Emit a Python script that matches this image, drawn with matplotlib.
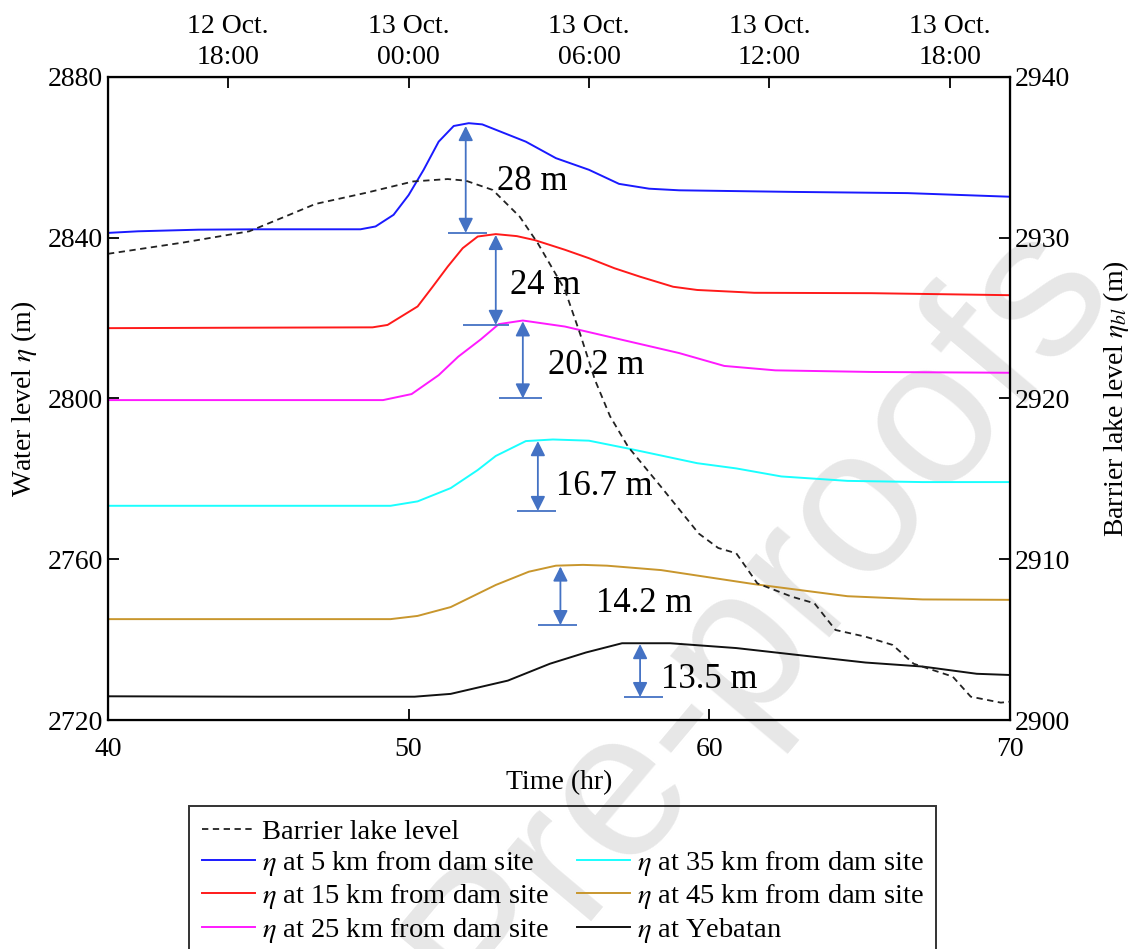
import numpy as np
import matplotlib
matplotlib.use('Agg')
from matplotlib import pyplot as plt

plt.rcParams['font.family'] = 'serif'
plt.rcParams['font.serif'] = ['Liberation Serif', 'DejaVu Serif']
plt.rcParams['mathtext.fontset'] = 'stix'
plt.rcParams['font.size'] = 20

# ---- data (time in hr, water level in m) ----
t_5km = [40, 41, 43, 45, 48.4, 48.9, 49.5, 50.0, 50.5, 51.0, 51.5, 52.0, 52.45, 53.9,
         54.9, 56.0, 57.0, 58.0, 59.0, 62.8, 66.6, 70]
h_5km = [2841.2, 2841.6, 2842.0, 2842.1, 2842.1, 2842.8, 2845.7, 2850.6, 2856.9, 2863.9,
         2867.8, 2868.5, 2868.2, 2863.9, 2859.8, 2856.9, 2853.4, 2852.2, 2851.8, 2851.4,
         2851.1, 2850.2]

t_15km = [40, 44, 48.8, 49.3, 50.3, 50.8, 51.3, 51.8, 52.3, 52.9, 53.6, 54.2, 55.2, 56.0,
          56.85, 57.7, 58.8, 59.6, 61.5, 65.4, 70]
h_15km = [2817.5, 2817.6, 2817.7, 2818.3, 2822.9, 2827.8, 2832.8, 2837.4, 2840.3, 2840.9,
          2840.4, 2839.4, 2837.0, 2834.9, 2832.4, 2830.3, 2827.8, 2827.0, 2826.3, 2826.2,
          2825.7]

t_25km = [40, 45, 49.15, 50.1, 51.0, 51.65, 52.4, 53.0, 53.8, 55.2, 57.1, 59.0, 60.5,
          62.2, 65.4, 70]
h_25km = [2799.6, 2799.6, 2799.6, 2801.1, 2805.8, 2810.4, 2814.7, 2818.5, 2819.4, 2817.9,
          2814.6, 2811.3, 2808.1, 2807.0, 2806.6, 2806.4]

t_35km = [40, 45, 49.4, 50.3, 51.4, 52.3, 52.9, 53.9, 54.8, 56.0, 57.4, 59.6, 60.9, 62.4,
          64.6, 67.1, 70]
h_35km = [2773.3, 2773.3, 2773.3, 2774.4, 2777.7, 2782.2, 2785.7, 2789.4, 2789.8, 2789.5,
          2787.4, 2783.9, 2782.6, 2780.6, 2779.5, 2779.2, 2779.2]

t_45km = [40, 45, 49.4, 50.3, 51.4, 52.9, 54.0, 54.9, 55.8, 56.6, 58.4, 61.5, 64.6, 67.1, 70]
h_45km = [2745.1, 2745.1, 2745.1, 2745.9, 2748.1, 2753.6, 2756.9, 2758.4, 2758.6, 2758.4,
          2757.3, 2753.8, 2750.8, 2750.0, 2749.9]

t_yeb = [40, 45, 50.2, 51.4, 53.3, 54.7, 55.9, 57.1, 58.7, 60.9, 63.4, 65.2, 67.1, 68.9, 70]
h_yeb = [2725.9, 2725.8, 2725.8, 2726.5, 2729.8, 2734.0, 2736.8, 2739.1, 2739.1, 2737.9,
         2735.8, 2734.3, 2733.3, 2731.5, 2731.2]

# barrier lake level (right axis)
t_lake = [40, 42.5, 44.7, 46.0, 46.9, 48.6, 50.15, 51.3, 51.9, 52.8, 53.7, 54.3, 55.2,
          55.7, 56.2, 56.7, 57.3, 58.4, 59.65, 60.3, 60.9, 61.6, 62.75, 63.5, 64.2, 65.2,
          66.1, 66.8, 68.1, 68.7, 69.7, 70]
h_lake = [2929.0, 2929.7, 2930.4, 2931.4, 2932.1, 2932.8, 2933.5, 2933.65, 2933.55,
          2932.97, 2931.3, 2929.65, 2926.75, 2924.05, 2921.15, 2918.9, 2917.0, 2914.5,
          2911.6, 2910.7, 2910.37, 2908.5, 2907.67, 2907.26, 2905.6, 2905.18, 2904.67,
          2903.5, 2902.7, 2901.45, 2901.08, 2901.14]

labels = ['$\\eta$ at 5 km from dam site', '$\\eta$ at 15 km from dam site',
          '$\\eta$ at 25 km from dam site', '$\\eta$ at 35 km from dam site',
          '$\\eta$ at 45 km from dam site', '$\\eta$ at Yebatan']
colors = ['#1a1aff', '#ff1a1a', '#ff1aff', '#1affff', '#c8962d', '#111111']

# rise annotations: arrow x, top, bottom, base line x0, x1, text
arr_x = [51.9, 52.9, 53.8, 54.3, 55.05, 57.7]
arr_top = [2867.8, 2840.7, 2819.2, 2789.4, 2758.2, 2738.9]
arr_bot = [2841.2, 2818.3, 2800.0, 2772.0, 2743.6, 2725.7]
base_x0 = [51.3, 51.8, 53.0, 53.6, 54.3, 57.15]
base_x1 = [52.6, 53.35, 54.45, 54.9, 55.6, 58.45]
rise_txt = ['28 m', '24 m', '20.2 m', '16.7 m', '14.2 m', '13.5 m']
txt_x = [52.95, 53.37, 54.63, 54.9, 56.23, 58.4]
txt_y = [2854, 2828.2, 2808.1, 2778, 2749, 2730]

top_ticks = [44, 50, 56, 62, 68]
top_labels = ['12 Oct.\n18:00', '13 Oct.\n00:00', '13 Oct.\n06:00', '13 Oct.\n12:00',
              '13 Oct.\n18:00']

fig = plt.figure(figsize=(11.33, 9.49), dpi=100)
ax = fig.add_axes([0.0953, 0.2413, 0.796, 0.6776])
ax.patch.set_alpha(0)

# watermark
fig.text(0.67, 0.35, 'Pre-proofs', fontsize=150, color='#e7e7e7', rotation=50,
         ha='center', va='center', family='Liberation Sans', zorder=-5)

series = [(t_5km, h_5km), (t_15km, h_15km), (t_25km, h_25km), (t_35km, h_35km),
          (t_45km, h_45km), (t_yeb, h_yeb)]
handles = []
for (t, h), c, lab in zip(series, colors, labels):
    ln, = ax.plot(t, h, color=c, lw=1.4, label=lab)
    handles.append(ln)

arrow_c = '#4472C4'
for i in range(len(arr_x)):
    ax.annotate('', xy=(arr_x[i], arr_top[i]), xytext=(arr_x[i], arr_bot[i]),
                arrowprops=dict(arrowstyle='<|-|>', color=arrow_c, lw=1.3,
                                mutation_scale=22, shrinkA=0, shrinkB=0))
    ax.hlines(arr_bot[i], base_x0[i], base_x1[i], color=arrow_c, lw=1.3)
    ax.text(txt_x[i], txt_y[i], rise_txt[i], fontsize=25, ha='left', va='center')

ax.set_xlim(40, 70)
ax.set_ylim(2720, 2880)
ax.set_xticks([40, 50, 60, 70])
ax.set_yticks([2720, 2760, 2800, 2840, 2880])
ax.tick_params(direction='in', length=8, width=1.3, labelsize=20)
ax.tick_params(axis='x', pad=12)
ax.set_xlabel('Time (hr)', fontsize=20, labelpad=6)
ax.set_ylabel('Water level $\\eta$ (m)', fontsize=20, labelpad=6)
for s in ax.spines.values():
    s.set_linewidth(1.6)

ax2 = ax.twinx()
lake, = ax2.plot(t_lake, h_lake, color='#222222', lw=1.3, ls=(0, (3.5, 2.5)),
                 label='Barrier lake level')
ax2.set_ylim(2900, 2940)
ax2.set_yticks([2900, 2910, 2920, 2930, 2940])
ax2.tick_params(direction='in', length=8, width=1.3, labelsize=20)
ax2.set_ylabel('Barrier lake level $\\eta_{bl}$ (m)', fontsize=20, labelpad=22)

top = ax.secondary_xaxis('top')
top.set_xticks(top_ticks, labels=top_labels)
top.tick_params(direction='in', length=8, width=1.3, labelsize=20, pad=5)
for lbl in top.get_xticklabels():
    lbl.set_linespacing(1.3)

blank, = ax.plot([], [], color='none')
leg_h = [lake, handles[0], handles[1], handles[2], blank, handles[3], handles[4], handles[5]]
leg_l = ['Barrier lake level', labels[0], labels[1], labels[2], '', labels[3], labels[4],
         labels[5]]
leg = fig.legend(leg_h, leg_l, ncol=2, loc='upper left', bbox_to_anchor=(0.167, 0.1507),
                 borderaxespad=0, fontsize=20.5, frameon=True, fancybox=False,
                 edgecolor='black', facecolor='none', framealpha=None,
                 handlelength=1.85, handletextpad=0.25, columnspacing=1.0,
                 labelspacing=0.15, borderpad=0.45)
leg.get_frame().set_linewidth(1.4)

fig.savefig('out.png', dpi=100)
